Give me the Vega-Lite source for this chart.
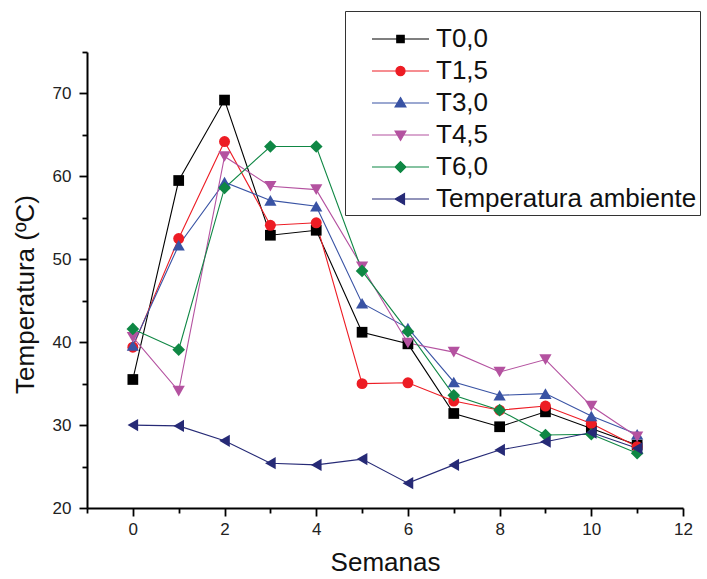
{
  "$schema": "https://vega.github.io/schema/vega-lite/v6.json",
  "width": 596,
  "height": 456,
  "autosize": {"type": "none"},
  "padding": {"left": 87, "top": 52, "right": 24, "bottom": 71},
  "background": "white",
  "config": {
    "font": "Liberation Sans",
    "view": {"stroke": null},
    "legend": {
      "orient": "none", "legendX": 258, "legendY": -41,
      "titleFontSize": 10, "titlePadding": 2,
      "padding": 3, "strokeColor": "#333", "fillColor": "#ffffff",
      "rowPadding": 6, "symbolOffset": 23, "labelOffset": 6,
      "symbolSize": 3249, "clipHeight": 26,
      "labelFontSize": 26, "labelColor": "#111", "labelLimit": 400,
      "symbolOpacity": 1, "symbolStrokeWidth": 1.2
    }
  },
  "data": {
    "values": [
      {"semana": 0, "serie": "T0,0", "temp": 35.5},
      {"semana": 1, "serie": "T0,0", "temp": 59.5},
      {"semana": 2, "serie": "T0,0", "temp": 69.2},
      {"semana": 3, "serie": "T0,0", "temp": 52.9},
      {"semana": 4, "serie": "T0,0", "temp": 53.5},
      {"semana": 5, "serie": "T0,0", "temp": 41.2},
      {"semana": 6, "serie": "T0,0", "temp": 39.8},
      {"semana": 7, "serie": "T0,0", "temp": 31.4},
      {"semana": 8, "serie": "T0,0", "temp": 29.8},
      {"semana": 9, "serie": "T0,0", "temp": 31.6},
      {"semana": 10, "serie": "T0,0", "temp": 29.6},
      {"semana": 11, "serie": "T0,0", "temp": 27.6},
      {"semana": 0, "serie": "T1,5", "temp": 39.4},
      {"semana": 1, "serie": "T1,5", "temp": 52.5},
      {"semana": 2, "serie": "T1,5", "temp": 64.2},
      {"semana": 3, "serie": "T1,5", "temp": 54.1},
      {"semana": 4, "serie": "T1,5", "temp": 54.4},
      {"semana": 5, "serie": "T1,5", "temp": 35.0},
      {"semana": 6, "serie": "T1,5", "temp": 35.1},
      {"semana": 7, "serie": "T1,5", "temp": 32.9},
      {"semana": 8, "serie": "T1,5", "temp": 31.8},
      {"semana": 9, "serie": "T1,5", "temp": 32.3},
      {"semana": 10, "serie": "T1,5", "temp": 30.2},
      {"semana": 11, "serie": "T1,5", "temp": 27.4},
      {"semana": 0, "serie": "T3,0", "temp": 39.6},
      {"semana": 1, "serie": "T3,0", "temp": 51.7},
      {"semana": 2, "serie": "T3,0", "temp": 59.3},
      {"semana": 3, "serie": "T3,0", "temp": 57.1},
      {"semana": 4, "serie": "T3,0", "temp": 56.4},
      {"semana": 5, "serie": "T3,0", "temp": 44.7},
      {"semana": 6, "serie": "T3,0", "temp": 41.7},
      {"semana": 7, "serie": "T3,0", "temp": 35.2},
      {"semana": 8, "serie": "T3,0", "temp": 33.6},
      {"semana": 9, "serie": "T3,0", "temp": 33.8},
      {"semana": 10, "serie": "T3,0", "temp": 31.1},
      {"semana": 11, "serie": "T3,0", "temp": 28.9},
      {"semana": 0, "serie": "T4,5", "temp": 40.6},
      {"semana": 1, "serie": "T4,5", "temp": 34.1},
      {"semana": 2, "serie": "T4,5", "temp": 62.4},
      {"semana": 3, "serie": "T4,5", "temp": 58.8},
      {"semana": 4, "serie": "T4,5", "temp": 58.4},
      {"semana": 5, "serie": "T4,5", "temp": 49.1},
      {"semana": 6, "serie": "T4,5", "temp": 39.9},
      {"semana": 7, "serie": "T4,5", "temp": 38.8},
      {"semana": 8, "serie": "T4,5", "temp": 36.4},
      {"semana": 9, "serie": "T4,5", "temp": 37.9},
      {"semana": 10, "serie": "T4,5", "temp": 32.3},
      {"semana": 11, "serie": "T4,5", "temp": 28.6},
      {"semana": 0, "serie": "T6,0", "temp": 41.6},
      {"semana": 1, "serie": "T6,0", "temp": 39.1},
      {"semana": 2, "serie": "T6,0", "temp": 58.6},
      {"semana": 3, "serie": "T6,0", "temp": 63.6},
      {"semana": 4, "serie": "T6,0", "temp": 63.6},
      {"semana": 5, "serie": "T6,0", "temp": 48.6},
      {"semana": 6, "serie": "T6,0", "temp": 41.3},
      {"semana": 7, "serie": "T6,0", "temp": 33.6},
      {"semana": 8, "serie": "T6,0", "temp": 31.8},
      {"semana": 9, "serie": "T6,0", "temp": 28.8},
      {"semana": 10, "serie": "T6,0", "temp": 28.9},
      {"semana": 11, "serie": "T6,0", "temp": 26.6},
      {"semana": 0, "serie": "Temperatura ambiente", "temp": 30.0},
      {"semana": 1, "serie": "Temperatura ambiente", "temp": 29.9},
      {"semana": 2, "serie": "Temperatura ambiente", "temp": 28.1},
      {"semana": 3, "serie": "Temperatura ambiente", "temp": 25.4},
      {"semana": 4, "serie": "Temperatura ambiente", "temp": 25.2},
      {"semana": 5, "serie": "Temperatura ambiente", "temp": 25.9},
      {"semana": 6, "serie": "Temperatura ambiente", "temp": 23.0},
      {"semana": 7, "serie": "Temperatura ambiente", "temp": 25.2},
      {"semana": 8, "serie": "Temperatura ambiente", "temp": 27.0},
      {"semana": 9, "serie": "Temperatura ambiente", "temp": 28.0},
      {"semana": 10, "serie": "Temperatura ambiente", "temp": 29.1},
      {"semana": 11, "serie": "Temperatura ambiente", "temp": 27.2}
    ]
  },
  "encoding": {
    "x": {
      "field": "semana", "type": "quantitative",
      "scale": {"domain": [-1, 12], "nice": false, "zero": false},
      "axis": {
        "title": "Semanas",
        "values": [-1, 0, 1, 2, 3, 4, 5, 6, 7, 8, 9, 10, 11, 12],
        "labelExpr": "datum.value % 2 == 0 && datum.value >= 0 ? datum.label : ''",
        "tickSize": {"condition": {"test": "datum.value % 2 == 0", "value": 8}, "value": 5},
        "tickWidth": 1.8, "tickColor": "#000",
        "domainColor": "#000", "domainWidth": 2,
        "labelFontSize": 17, "labelColor": "#222", "labelPadding": 5,
        "labelFlush": false, "labelOverlap": false, "grid": false,
        "titleFontSize": 26, "titleFontWeight": "normal", "titleColor": "#111",
        "titleBaseline": "alphabetic", "titleY": 62
      }
    },
    "y": {
      "field": "temp", "type": "quantitative",
      "scale": {"domain": [20, 75], "nice": false, "zero": false},
      "axis": {
        "title": "Temperatura (ºC)",
        "values": [20, 25, 30, 35, 40, 45, 50, 55, 60, 65, 70, 75],
        "labelExpr": "datum.value % 10 == 0 ? datum.label : ''",
        "tickSize": {"condition": {"test": "datum.value % 10 == 0", "value": 8}, "value": 5},
        "tickWidth": 1.8, "tickColor": "#000",
        "domainColor": "#000", "domainWidth": 2,
        "labelFontSize": 17, "labelColor": "#222", "labelPadding": 8,
        "labelFlush": false, "labelOverlap": false, "grid": false,
        "titleFontSize": 26, "titleFontWeight": "normal", "titleColor": "#111",
        "titleBaseline": "alphabetic", "titleX": -54, "titleY": 242
      }
    },
    "color": {
      "field": "serie", "type": "nominal", "title": " ",
      "scale": {
        "domain": ["T0,0", "T1,5", "T3,0", "T4,5", "T6,0", "Temperatura ambiente"],
        "range": ["#000000", "#ed1c24", "#3953a4", "#b452a0", "#0f8744", "#262a76"]
      }
    }
  },
  "layer": [
    {"mark": {"type": "line", "strokeWidth": 1.1}, "encoding": {}},
    {"transform": [{"filter": "datum.serie == 'T0,0'"}], "mark": {"type": "point", "filled": true, "opacity": 1, "shape": "square", "size": 115}, "encoding": {}},
    {"transform": [{"filter": "datum.serie == 'T1,5'"}], "mark": {"type": "point", "filled": true, "opacity": 1, "shape": "circle", "size": 120}, "encoding": {}},
    {"transform": [{"filter": "datum.serie == 'T3,0'"}], "mark": {"type": "point", "filled": true, "opacity": 1, "shape": "triangle-up", "size": 150}, "encoding": {}},
    {"transform": [{"filter": "datum.serie == 'T4,5'"}], "mark": {"type": "point", "filled": true, "opacity": 1, "shape": "triangle-down", "size": 150}, "encoding": {}},
    {"transform": [{"filter": "datum.serie == 'T6,0'"}], "mark": {"type": "point", "filled": true, "opacity": 1, "shape": "diamond", "size": 160}, "encoding": {}},
    {"transform": [{"filter": "datum.serie == 'Temperatura ambiente'"}], "mark": {"type": "point", "filled": true, "opacity": 1, "shape": "triangle-left", "size": 150}, "encoding": {}},
    {
      "mark": {"type": "point", "filled": true, "opacity": 0, "size": 3249},
      "encoding": {
        "shape": {
          "field": "serie", "type": "nominal", "title": " ",
          "scale": {
            "domain": ["T0,0", "T1,5", "T3,0", "T4,5", "T6,0", "Temperatura ambiente"],
            "range": [
              "M-1,0H1M-0.13,-0.13H0.13V0.13H-0.13Z",
              "M-1,0H1M0.16,0A0.16,0.16,0,1,1,-0.16,0A0.16,0.16,0,1,1,0.16,0Z",
              "M-1,0H1M0,-0.19L0.19,0.14H-0.19Z",
              "M-1,0H1M0,0.19L0.19,-0.14H-0.19Z",
              "M-1,0H1M0,-0.19L0.19,0L0,0.19L-0.19,0Z",
              "M-1,0H1M-0.19,0L0.14,-0.19V0.19Z"
            ]
          },
          "legend": {
            "encode": {"symbols": {"update": {"stroke": {"scale": "color", "field": "value"}, "fill": {"scale": "color", "field": "value"}, "opacity": {"value": 1}}}}
          }
        }
      }
    }
  ]
}
